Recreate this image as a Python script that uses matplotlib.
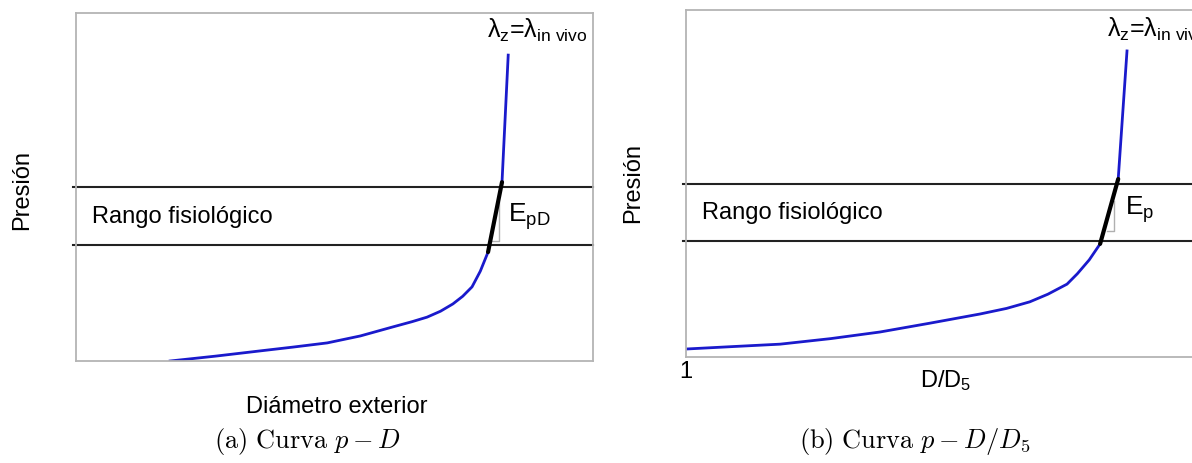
import matplotlib
matplotlib.use("Agg")
import matplotlib.pyplot as plt

plt.rcParams["font.family"] = ["Liberation Sans", "DejaVu Sans"]
plt.rcParams["mathtext.fontset"] = "custom"
plt.rcParams["mathtext.rm"] = "Liberation Sans"
plt.rcParams["mathtext.it"] = "Liberation Sans:italic"

# curva (a): presión vs diámetro exterior (ejes normalizados 0-1)
a_x = [0.182, 0.27, 0.356, 0.42, 0.486, 0.55, 0.613, 0.65, 0.679, 0.705,
       0.729, 0.748, 0.766, 0.782, 0.797]
a_y = [0.000, 0.014, 0.029, 0.040, 0.052, 0.072, 0.098, 0.113, 0.126, 0.143,
       0.164, 0.186, 0.213, 0.258, 0.313]
a_seg_x = [0.797, 0.824]          # tramo negro (rango fisiológico)
a_seg_y = [0.313, 0.514]
a_top_x = [0.824, 0.836]          # subida final
a_top_y = [0.514, 0.879]
a_tri_x = [0.805, 0.818, 0.818]   # triángulo de pendiente
a_tri_y = [0.345, 0.345, 0.457]

# curva (b): presión vs D/D5
b_x = [0.000, 0.09, 0.182, 0.28, 0.375, 0.47, 0.569, 0.62, 0.665, 0.70,
       0.737, 0.757, 0.78, 0.801]
b_y = [0.023, 0.030, 0.037, 0.053, 0.072, 0.097, 0.124, 0.140, 0.159, 0.181,
       0.210, 0.240, 0.280, 0.326]
b_seg_x = [0.801, 0.836]
b_seg_y = [0.326, 0.513]
b_top_x = [0.836, 0.853]
b_top_y = [0.513, 0.882]
b_tri_x = [0.814, 0.828, 0.828]
b_tri_y = [0.363, 0.363, 0.450]

rango = [1 / 3, 1 / 2]   # límites del rango fisiológico
BLUE = "#1a1acc"


def panel(ax, x, y, sx, sy, tx, ty, trx, tr_y, e_label, e_xy, lam_xy):
    ax.set_xlim(0, 1)
    ax.set_ylim(0, 1)
    for s in ax.spines.values():
        s.set_color("#b4b4b4")
        s.set_linewidth(1.3)
    for r in rango:
        ax.axhline(r, color="#222222", lw=1.5, clip_on=False, xmin=-0.005)
    ax.plot(x + [sx[0]], y + [sy[0]], color=BLUE, lw=2)
    ax.plot(tx, ty, color=BLUE, lw=2)
    ax.plot(trx, tr_y, color="#b0b0b0", lw=1)
    ax.plot(sx, sy, color="black", lw=3, solid_capstyle="round")
    ax.text(0.031, 0.40, "Rango fisiológico", fontsize=17, va="baseline")
    ax.text(*e_xy, e_label, fontsize=19, va="baseline")
    ax.text(*lam_xy, r"λ$_{\mathrm{z}}$=λ$_{\mathrm{in\ vivo}}$",
            fontsize=18, va="baseline", clip_on=False)
    ax.set_yticks([])


fig = plt.figure(figsize=(11.92, 4.64), dpi=100)
ax1 = fig.add_axes([76 / 1192, 102 / 464, 517 / 1192, 348 / 464])
ax2 = fig.add_axes([686 / 1192, 106 / 464, 517 / 1192, 347 / 464])

panel(ax1, a_x, a_y, a_seg_x, a_seg_y, a_top_x, a_top_y, a_tri_x, a_tri_y,
      r"E$_{\mathrm{pD}}$", (0.836, 0.402), (0.795, 0.931))
panel(ax2, b_x, b_y, b_seg_x, b_seg_y, b_top_x, b_top_y, b_tri_x, b_tri_y,
      r"E$_{\mathrm{p}}$", (0.849, 0.412), (0.814, 0.925))

ax1.set_xticks([])
ax2.set_xticks([0])
ax2.set_xticklabels(["1"], fontsize=17)
ax2.tick_params(axis="x", length=0, pad=2)

fig.text(22 / 1192, 1 - 190 / 464, "Presión", rotation=90, fontsize=17,
         ha="center", va="center")
fig.text(633 / 1192, 1 - 183 / 464, "Presión", rotation=90, fontsize=17,
         ha="center", va="center")
fig.text(337 / 1192, 1 - 413 / 464, "Diámetro exterior", fontsize=17,
         ha="center", va="baseline")
fig.text(946 / 1192, 1 - 387 / 464, r"D/D$_{\mathrm{5}}$", fontsize=17,
         ha="center", va="baseline")

fig.text(307 / 1192, 1 - 448 / 464, r"$\mathrm{(a)\ Curva}\ p - D$", fontsize=19,
         ha="center", va="baseline", math_fontfamily="cm")
fig.text(915 / 1192, 1 - 448 / 464, r"$\mathrm{(b)\ Curva}\ p - D/D_5$", fontsize=19,
         ha="center", va="baseline", math_fontfamily="cm")

fig.savefig("out.png", dpi=100)
